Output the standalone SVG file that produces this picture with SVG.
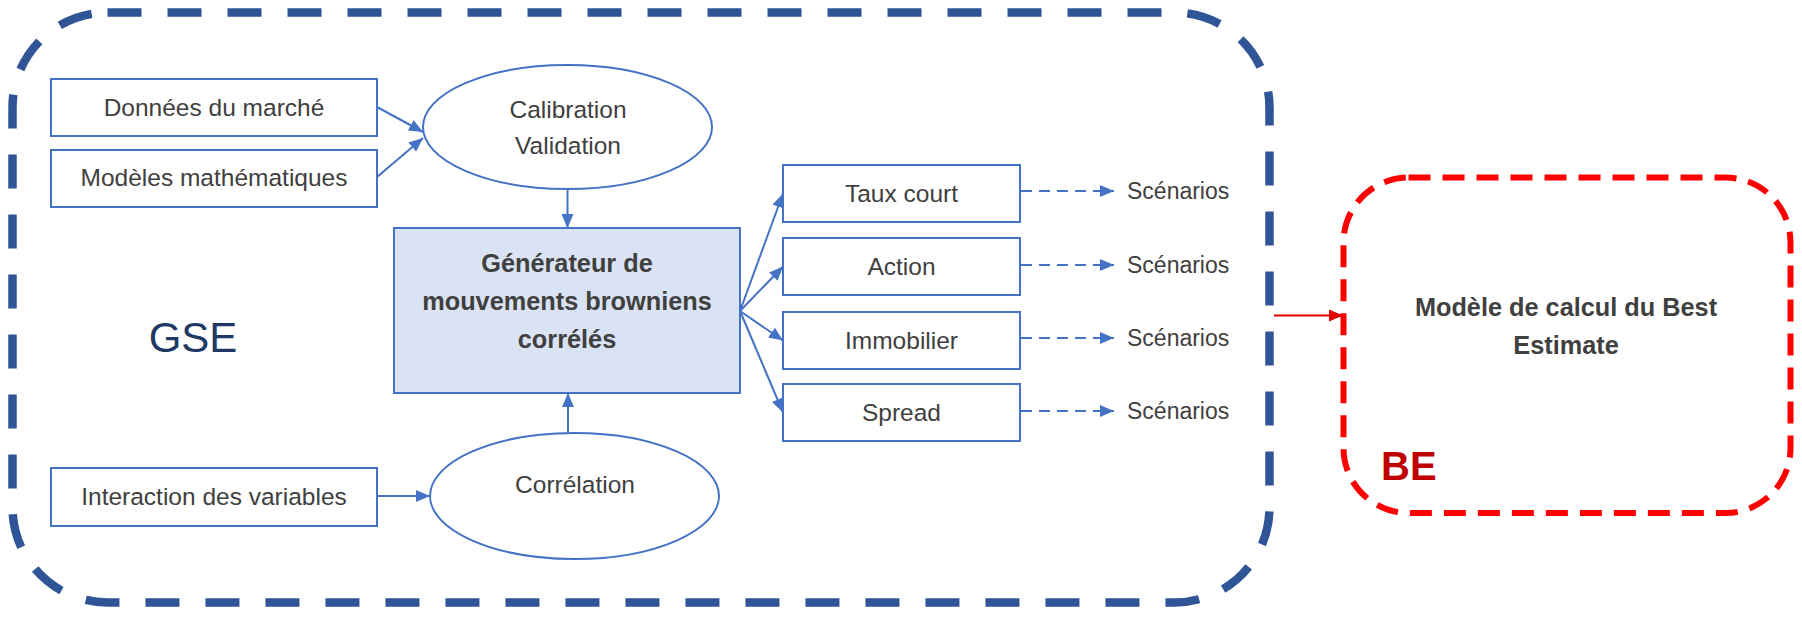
<svg xmlns="http://www.w3.org/2000/svg" width="1802" height="617" viewBox="0 0 1802 617">
<style>
.box{fill:#fff;stroke:#4472C4;stroke-width:2}
.gen{fill:#DAE3F3;stroke:#4472C4;stroke-width:2}
.t{font-family:"Liberation Sans",Arial,sans-serif;font-size:24.5px;fill:#404040;text-anchor:middle}
.sc{font-family:"Liberation Sans",Arial,sans-serif;font-size:23px;fill:#404040}
.b{font-family:"Liberation Sans",Arial,sans-serif;font-size:25.3px;font-weight:bold;fill:#404040;text-anchor:middle}
.c{fill:none;stroke:#4472C4;stroke-width:2}
.d{fill:none;stroke:#4472C4;stroke-width:2;stroke-dasharray:11 7}
</style>
<defs>
<marker id="ah" markerUnits="userSpaceOnUse" markerWidth="14" markerHeight="12" refX="14" refY="6" orient="auto"><path d="M0,0 L14,6 L0,12 Z" fill="#4472C4"/></marker>
<marker id="ahr" markerUnits="userSpaceOnUse" markerWidth="14" markerHeight="12" refX="14" refY="6" orient="auto"><path d="M0,0 L14,6 L0,12 Z" fill="#E00000"/></marker>
</defs>

<g id="gse-frame">
<rect x="12.5" y="12.5" width="1257" height="590" rx="95" ry="95" fill="none" stroke="#2F5597" stroke-width="8.5" stroke-dasharray="34 26"/>
<text x="193" y="352" style="font-family:'Liberation Sans',Arial,sans-serif;font-size:42px;fill:#203864;text-anchor:middle">GSE</text>
</g>

<g id="be-frame">
<rect x="1343.5" y="177.5" width="447" height="335.5" rx="65" ry="65" fill="none" stroke="#FF0000" stroke-width="6" stroke-dasharray="22 12"/>
<text x="1381" y="480" style="font-family:'Liberation Sans',Arial,sans-serif;font-size:40px;font-weight:bold;fill:#C00000">BE</text>
<text class="b" x="1566" y="316">Modèle de calcul du Best</text>
<text class="b" x="1566" y="354">Estimate</text>
</g>

<g id="donnees"><rect class="box" x="51" y="79" width="326" height="57"/><text class="t" x="214" y="116">Données du marché</text></g>
<g id="modeles"><rect class="box" x="51" y="150" width="326" height="57"/><text class="t" x="214" y="186">Modèles mathématiques</text></g>
<g id="interaction"><rect class="box" x="51" y="468" width="326" height="58"/><text class="t" x="214" y="505">Interaction des variables</text></g>

<g id="calibration"><ellipse class="box" cx="567.5" cy="127" rx="144.5" ry="62"/><text class="t" x="568" y="118">Calibration</text><text class="t" x="568" y="154">Validation</text></g>
<g id="generateur"><rect class="gen" x="394" y="228" width="346" height="165"/>
<text class="b" x="567" y="272">Générateur de</text>
<text class="b" x="567" y="310">mouvements browniens</text>
<text class="b" x="567" y="347.5">corrélés</text></g>
<g id="correlation"><ellipse class="box" cx="574.5" cy="496" rx="144.5" ry="63"/><text class="t" x="575" y="493">Corrélation</text></g>

<g id="taux"><rect class="box" x="783" y="165" width="237" height="57"/><text class="t" x="901.5" y="201.5">Taux court</text></g>
<g id="action"><rect class="box" x="783" y="238" width="237" height="57"/><text class="t" x="901.5" y="274.5">Action</text></g>
<g id="immobilier"><rect class="box" x="783" y="312" width="237" height="57"/><text class="t" x="901.5" y="348.5">Immobilier</text></g>
<g id="spread"><rect class="box" x="783" y="384" width="237" height="57"/><text class="t" x="901.5" y="420.5">Spread</text></g>

<g id="sc1"><text class="sc" x="1127" y="199">Scénarios</text></g>
<g id="sc2"><text class="sc" x="1127" y="273">Scénarios</text></g>
<g id="sc3"><text class="sc" x="1127" y="346">Scénarios</text></g>
<g id="sc4"><text class="sc" x="1127" y="419">Scénarios</text></g>

<g id="connectors">
<line class="c" x1="377" y1="107" x2="423" y2="132" marker-end="url(#ah)"/>
<line class="c" x1="377" y1="177" x2="423" y2="138" marker-end="url(#ah)"/>
<line class="c" x1="567.5" y1="189" x2="567.5" y2="228" marker-end="url(#ah)"/>
<line class="c" x1="568" y1="433" x2="568" y2="393" marker-end="url(#ah)"/>
<line class="c" x1="377" y1="496" x2="430" y2="496" marker-end="url(#ah)"/>
<line class="c" x1="740" y1="311" x2="783" y2="193.5" marker-end="url(#ah)"/>
<line class="c" x1="740" y1="311" x2="783" y2="266.5" marker-end="url(#ah)"/>
<line class="c" x1="740" y1="311" x2="783" y2="340.5" marker-end="url(#ah)"/>
<line class="c" x1="740" y1="311" x2="783" y2="412.5" marker-end="url(#ah)"/>
<line class="d" x1="1021" y1="191" x2="1114" y2="191" marker-end="url(#ah)"/>
<line class="d" x1="1021" y1="265" x2="1114" y2="265" marker-end="url(#ah)"/>
<line class="d" x1="1021" y1="338" x2="1114" y2="338" marker-end="url(#ah)"/>
<line class="d" x1="1021" y1="411" x2="1114" y2="411" marker-end="url(#ah)"/>
<line x1="1274" y1="315.5" x2="1343" y2="315.5" stroke="#E00000" stroke-width="2" marker-end="url(#ahr)"/>
</g>
</svg>
